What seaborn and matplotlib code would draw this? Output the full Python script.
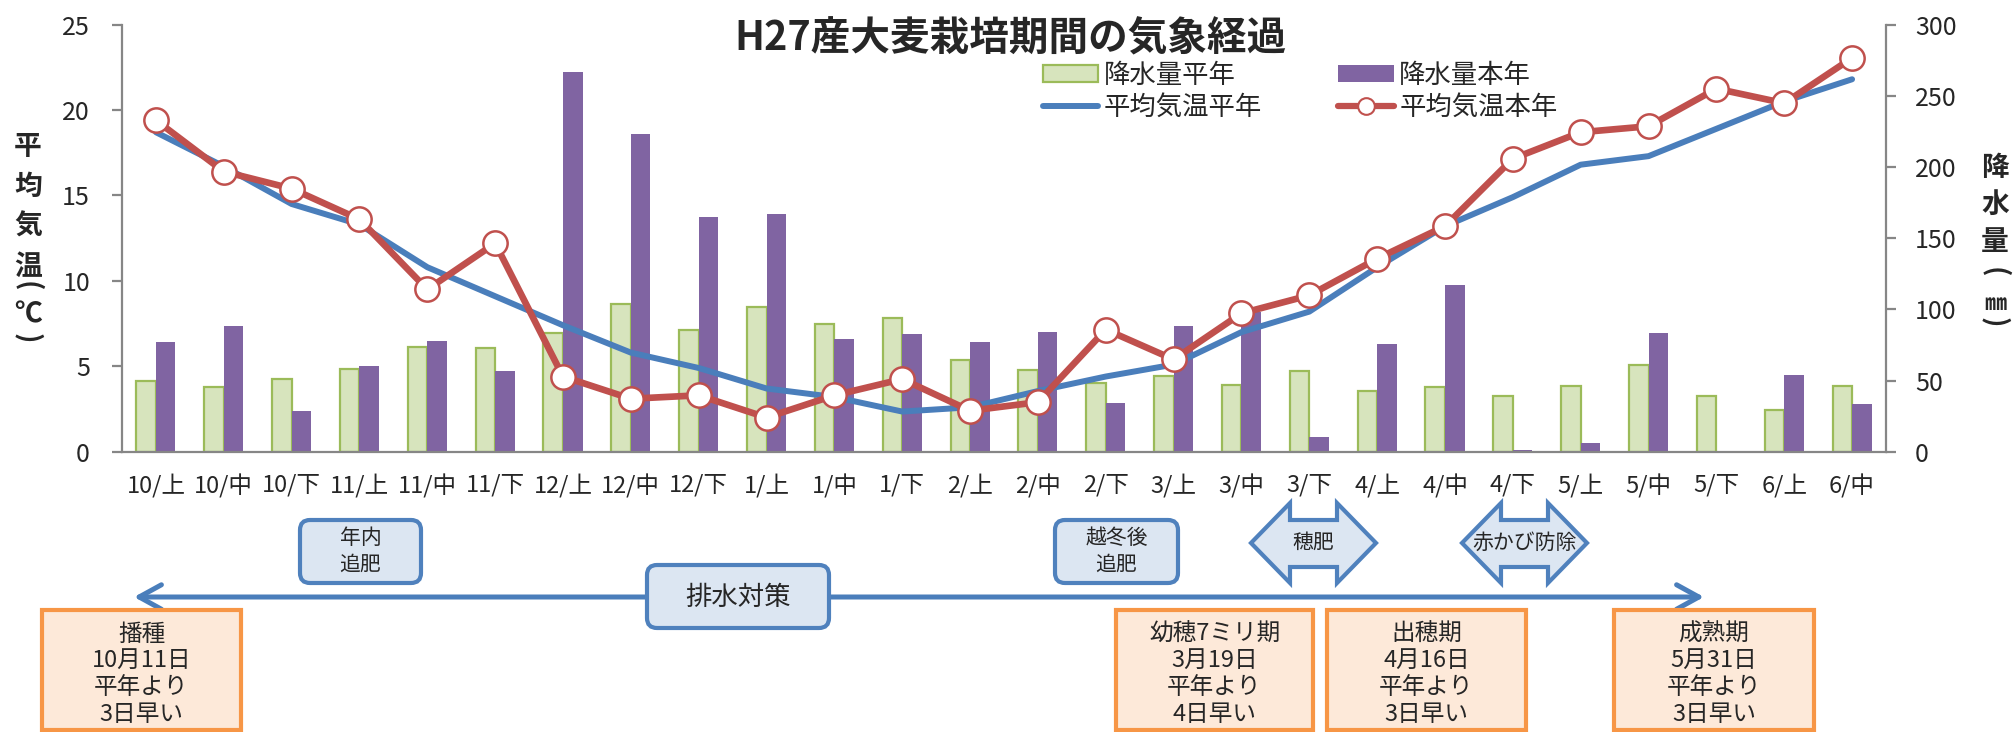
import numpy as np
import pandas as pd
import matplotlib
matplotlib.use("Agg")
import matplotlib.pyplot as plt
import seaborn as sns
from matplotlib.patches import FancyBboxPatch, Rectangle, Polygon, Patch
from matplotlib.lines import Line2D

# ---------------- data ----------------
periods = ['10/上', '10/中', '10/下', '11/上', '11/中', '11/下', '12/上', '12/中', '12/下',
           '1/上', '1/中', '1/下', '2/上', '2/中', '2/下', '3/上', '3/中', '3/下',
           '4/上', '4/中', '4/下', '5/上', '5/中', '5/下', '6/上', '6/中']
precip_normal = [50.0, 45.3, 50.9, 58.4, 73.8, 73.1, 83.6, 103.7, 85.5,
                 101.8, 89.4, 93.7, 64.4, 57.4, 48.0, 53.3, 46.8, 56.8,
                 42.5, 45.6, 38.8, 46.3, 61.2, 38.8, 29.0, 45.8]
precip_this = [77.3, 88.3, 28.7, 60.3, 77.8, 56.5, 267.0, 223.0, 165.0,
               167.3, 79.1, 82.4, 77.2, 84.3, 34.0, 88.3, 98.0, 10.5,
               75.5, 117.3, 1.0, 6.1, 83.2, 0.0, 53.7, 33.2]
temp_normal = [18.7, 16.7, 14.5, 13.3, 10.8, 9.1, 7.4, 5.8, 4.9,
               3.7, 3.2, 2.35, 2.6, 3.55, 4.4, 5.1, 7.0, 8.2,
               10.8, 13.2, 14.9, 16.8, 17.3, 18.9, 20.5, 21.8]
temp_this = [19.4, 16.4, 15.4, 13.6, 9.5, 12.2, 4.4, 3.1, 3.3,
             2.0, 3.3, 4.25, 2.4, 2.9, 7.15, 5.4, 8.1, 9.15,
             11.3, 13.2, 17.15, 18.7, 19.05, 21.25, 20.4, 23.05]
temp_ticks = [0, 5, 10, 15, 20, 25]
precip_ticks = [0, 50, 100, 150, 200, 250, 300]

series_names = ['降水量平年', '降水量本年', '平均気温平年', '平均気温本年']
title = 'H27産大麦栽培期間の気象経過'
left_label_main = '平\n均\n気\n温'
left_label_unit = '℃'
right_label_main = '降\n水\n量'
right_label_unit = '㎜'

# ---------------- style ----------------
sns.set_style("white")
plt.rcParams['font.family'] = ['Noto Sans CJK JP', 'DejaVu Sans']

C_GREEN = '#d7e4bd'
C_GREEN_EDGE = '#9bbb59'
C_PURPLE = '#8064a2'
C_BLUE = '#4a7ebb'
C_RED = '#c0504d'
C_AXIS = '#868686'
C_BOXFILL = '#dce6f2'
C_BOXEDGE = '#4f81bd'
C_ORFILL = '#fde9d9'
C_OREDGE = '#f79646'

W, H = 2013, 732
fig = plt.figure(figsize=(W / 100, H / 100), dpi=100)

x_left, x_right, y_top, y_bot = 122, 1886, 24.6, 451.7
ax_bar = fig.add_axes([x_left / W, 1 - y_bot / H, (x_right - x_left) / W, (y_bot - y_top) / H])

n = len(periods)
df = pd.DataFrame({
    'period': periods * 2,
    'precip': precip_normal + precip_this,
    'series': [series_names[0]] * n + [series_names[1]] * n,
})
sns.barplot(data=df, x='period', y='precip', hue='series', order=periods,
            hue_order=series_names[:2],
            palette={series_names[0]: C_GREEN, series_names[1]: C_PURPLE},
            saturation=1, width=0.575, gap=0, linewidth=0, legend=False, ax=ax_bar)
for bar in ax_bar.containers[0]:
    bar.set_edgecolor(C_GREEN_EDGE)
    bar.set_linewidth(1.6)

ax_bar.set_xlim(-0.5, n - 0.5)
ax_bar.set_ylim(0, 300)
ax_bar.set_yticks(precip_ticks)
ax_bar.set_xlabel('')
ax_bar.set_ylabel('')

ax_line = ax_bar.twinx()
sns.lineplot(x=periods, y=temp_normal, sort=False, color=C_BLUE, lw=4.3,
             errorbar=None, ax=ax_line)
sns.lineplot(x=periods, y=temp_this, sort=False, color=C_RED, lw=4.8,
             marker='o', markersize=17.5, markerfacecolor='white',
             markeredgecolor=C_RED, markeredgewidth=1.8, errorbar=None, ax=ax_line)
ax_line.set_ylim(0, 25)
ax_line.set_yticks(temp_ticks)
ax_line.set_xlim(-0.5, n - 0.5)
ax_line.set_ylabel('')

# precipitation ticks on the right, temperature ticks on the left
ax_bar.yaxis.tick_right()
ax_bar.yaxis.set_label_position('right')
ax_line.yaxis.tick_left()
ax_line.yaxis.set_label_position('left')

# spines
for s in ax_line.spines.values():
    s.set_visible(False)
ax_bar.spines['top'].set_visible(False)
for k in ['left', 'right', 'bottom']:
    ax_bar.spines[k].set_visible(True)
    ax_bar.spines[k].set_color(C_AXIS)
    ax_bar.spines[k].set_linewidth(1.6)

# ticks
ax_bar.set_xticks(range(n))
ax_bar.set_xticklabels(periods)
ax_bar.set_xticks(np.arange(-0.5, n, 1.0), minor=True)
ax_bar.tick_params(axis='x', which='major', length=0, labelsize=17, pad=16)
ax_bar.tick_params(axis='x', which='minor', length=6, width=1.6, color=C_AXIS, direction='out')
ax_bar.tick_params(axis='y', which='major', length=7, width=1.6, color=C_AXIS,
                   direction='out', labelsize=18, pad=14)
ax_line.tick_params(axis='y', which='major', length=7, width=1.6, color=C_AXIS,
                    direction='out', labelsize=18, pad=16)

# title
fig.text(1011 / W, 1 - 39 / H, title, ha='center', va='center', fontsize=28.5, fontweight='bold')

# legend
handles = [
    Patch(facecolor=C_GREEN, edgecolor=C_GREEN_EDGE, linewidth=1.6),
    Line2D([], [], color=C_BLUE, lw=4.3),
    Patch(facecolor=C_PURPLE, edgecolor='none'),
    Line2D([], [], color=C_RED, lw=4.5, marker='o', markersize=12,
           markerfacecolor='white', markeredgecolor=C_RED, markeredgewidth=1.5),
]
labels = [series_names[0], series_names[2], series_names[1], series_names[3]]
fig.legend(handles, labels, ncol=2, loc='upper left', bbox_to_anchor=(1043 / W, 1 - 62 / H),
           frameon=False, fontsize=19, handlelength=2.1, handleheight=0.6,
           handletextpad=0.2, columnspacing=2.9, labelspacing=0.2,
           borderpad=0, borderaxespad=0)

# stacked (vertical) axis titles
def fy(y):
    return 1 - y / H

fig.text(28 / W, fy(207), left_label_main, ha='center', va='center', fontsize=20,
         fontweight='bold', linespacing=1.55)
fig.text(28 / W, fy(286), '(', rotation=-90, ha='center', va='center', fontsize=20,
         fontweight='bold')
fig.text(28 / W, fy(314), left_label_unit, ha='center', va='center', fontsize=20,
         fontweight='bold')
fig.text(28 / W, fy(338), ')', rotation=-90, ha='center', va='center', fontsize=20,
         fontweight='bold')

fig.text(1995 / W, fy(205), right_label_main, ha='center', va='center', fontsize=20,
         fontweight='bold', linespacing=1.4)
fig.text(1995 / W, fy(272), '(', rotation=-90, ha='center', va='center', fontsize=20,
         fontweight='bold')
fig.text(1995 / W, fy(304), right_label_unit, ha='center', va='center', fontsize=16,
         fontweight='bold')
fig.text(1995 / W, fy(322), ')', rotation=-90, ha='center', va='center', fontsize=20,
         fontweight='bold')

# ---------------- annotations (pixel overlay) ----------------
ov = fig.add_axes([0, 0, 1, 1])
ov.set_xlim(0, W)
ov.set_ylim(H, 0)
ov.axis('off')

def rbox(x0, x1, y0, y1):
    ov.add_patch(FancyBboxPatch((x0, y0), x1 - x0, y1 - y0,
                                boxstyle='round,pad=0,rounding_size=10',
                                fc=C_BOXFILL, ec=C_BOXEDGE, lw=3, zorder=3))

def darrow(x0, x1, y0, y1, ys0, ys1, hw=39):
    yc = (y0 + y1) / 2
    pts = [(x0, yc), (x0 + hw, y0), (x0 + hw, ys0), (x1 - hw, ys0), (x1 - hw, y0),
           (x1, yc), (x1 - hw, y1), (x1 - hw, ys1), (x0 + hw, ys1), (x0 + hw, y1)]
    ov.add_patch(Polygon(pts, closed=True, fc=C_BOXFILL, ec=C_BOXEDGE, lw=3,
                         joinstyle='miter', zorder=3))

# long drainage arrow
ov.annotate('', xy=(134, 597), xytext=(1704, 597),
            arrowprops=dict(arrowstyle='<->,head_length=1.0,head_width=0.55',
                            mutation_scale=16, lw=3.6, color=C_BLUE, shrinkA=0, shrinkB=0),
            zorder=1)

rbox(300, 421, 520, 583)
ov.text(360.5, 538, '年内', ha='center', va='center', fontsize=15, zorder=4)
ov.text(360.5, 565, '追肥', ha='center', va='center', fontsize=15, zorder=4)

rbox(1055, 1178, 520, 583)
ov.text(1116.5, 538, '越冬後', ha='center', va='center', fontsize=15, zorder=4)
ov.text(1116.5, 565, '追肥', ha='center', va='center', fontsize=15, zorder=4)

rbox(647, 829, 565, 628)
ov.text(738, 597, '排水対策', ha='center', va='center', fontsize=19, zorder=4)

darrow(1251, 1376, 503, 583, 520, 567)
ov.text(1313, 543, '穂肥', ha='center', va='center', fontsize=15, zorder=4)
darrow(1462, 1587, 503, 583, 520, 567)
ov.text(1524, 543, '赤かび防除', ha='center', va='center', fontsize=15, zorder=4)

stage_boxes = [
    (42, 241, ['播種', '10月11日', '平年より', '3日早い']),
    (1116, 1313, ['幼穂7ミリ期', '3月19日', '平年より', '4日早い']),
    (1327, 1526, ['出穂期', '4月16日', '平年より', '3日早い']),
    (1614, 1814, ['成熟期', '5月31日', '平年より', '3日早い']),
]
for x0, x1, lines in stage_boxes:
    ov.add_patch(Rectangle((x0, 610), x1 - x0, 120, fc=C_ORFILL, ec=C_OREDGE, lw=3, zorder=3))
    for j, line in enumerate(lines):
        ov.text((x0 + x1) / 2, 634 + j * 26.7, line, ha='center', va='center',
                fontsize=17, zorder=4)

fig.savefig('out.png', dpi=100)
